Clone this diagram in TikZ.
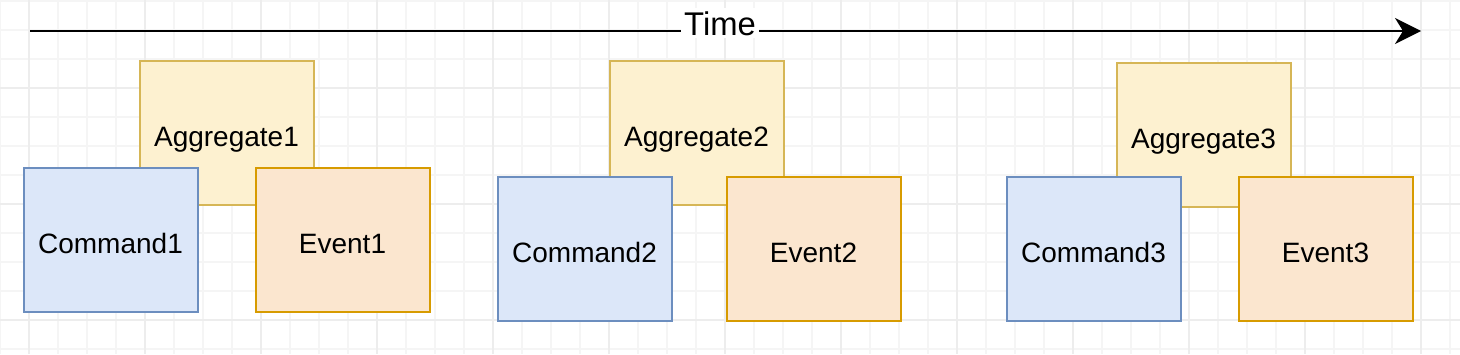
\documentclass[tikz,border=0pt]{standalone}
\usepackage{fontspec}
\setmainfont{Liberation Sans}
\usetikzlibrary{arrows.meta}
\definecolor{aggfill}{HTML}{FDF1D0}
\definecolor{aggline}{HTML}{D6B656}
\definecolor{cmdfill}{HTML}{DCE7F9}
\definecolor{cmdline}{HTML}{6C8EBF}
\definecolor{evtfill}{HTML}{FBE6CF}
\definecolor{evtline}{HTML}{D79B00}
\definecolor{gridlight}{HTML}{F5F5F5}
\definecolor{gridmajor}{HTML}{EDEDED}
\begin{document}
\begin{tikzpicture}[x=0.5pt,y=-0.5pt,
  box/.style={draw, line width=1pt, minimum width=87pt, minimum height=72pt,
    inner sep=0pt, text height=13.5pt, text depth=0pt,
    font=\fontsize{14}{16}\selectfont},
  aggbox/.style={box, fill=aggfill, draw=aggline},
  cmdbox/.style={box, fill=cmdfill, draw=cmdline},
  evtbox/.style={box, fill=evtfill, draw=evtline},
  gridminor/.style={draw=gridlight, line width=1pt},
  gridstrong/.style={draw=gridmajor, line width=1pt}]
\useasboundingbox (0,0) rectangle (1460,354);
% background grid
\foreach \gx in {0,29,...,1450} \draw[gridminor] (\gx,0) -- (\gx,354);
\foreach \gy in {1,30,...,350} \draw[gridminor] (0,\gy) -- (1460,\gy);
\foreach \gx in {29,145,...,1421} \draw[gridstrong] (\gx,0) -- (\gx,354);
\foreach \gy in {88,204,320} \draw[gridstrong] (0,\gy) -- (1460,\gy);
% time axis
\coordinate (tstart) at (30,31);
\coordinate (tend) at (1421,31);
\draw[line width=1.2pt, -{Stealth[length=13pt,width=13pt,inset=4pt]}] (tstart) -- (tend);
\node[fill=white, inner sep=1.5pt, anchor=base, font=\fontsize{16.4}{18}\selectfont]
  (time) at (720,35) {Time};
% aggregates
\node[aggbox] (agg1) at (226.5,132.5) {Aggregate1};
\node[aggbox] (agg2) at (696.5,132.5) {Aggregate2};
\node[aggbox] (agg3) at (1203.5,135) {Aggregate3};
% commands
\node[cmdbox] (cmd1) at (110.5,239.5) {Command1};
\node[cmdbox] (cmd2) at (584.5,248.5) {Command2};
\node[cmdbox] (cmd3) at (1093.5,248.5) {Command3};
% events
\node[evtbox] (evt1) at (342.5,239.5) {Event1};
\node[evtbox] (evt2) at (813.5,248.5) {Event2};
\node[evtbox] (evt3) at (1325.5,248.5) {Event3};
\end{tikzpicture}
\end{document}
